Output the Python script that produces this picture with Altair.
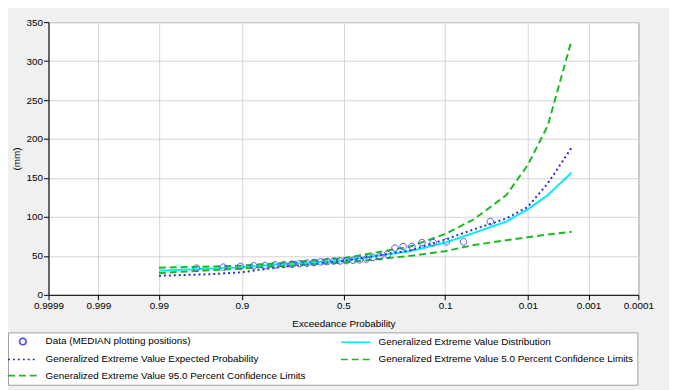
import altair as alt
import pandas as pd
from statistics import NormalDist

# ---------------- data ----------------
SERIES = [
    "Data (MEDIAN plotting positions)",
    "Generalized Extreme Value Distribution",
    "Generalized Extreme Value Expected Probability",
    "Generalized Extreme Value 5.0 Percent Confidence Limits",
    "Generalized Extreme Value 95.0 Percent Confidence Limits",
]

# observed data: exceedance probability and value (mm)
OBS_P = [0.032, 0.065, 0.097, 0.129, 0.161, 0.194, 0.226, 0.258, 0.290, 0.323,
         0.355, 0.387, 0.419, 0.452, 0.484, 0.516, 0.548, 0.581, 0.613, 0.645,
         0.677, 0.710, 0.742, 0.774, 0.806, 0.839, 0.871, 0.903, 0.935, 0.968]
OBS_V = [94.0, 68.0, 68.0, 67.0, 67.0, 62.0, 62.0, 60.0, 52.0, 49.0,
         48.0, 46.0, 45.0, 44.5, 44.0, 43.5, 43.5, 42.7, 42.4, 41.4,
         40.6, 40.1, 39.3, 38.9, 38.4, 37.6, 37.2, 36.4, 35.5, 34.2]

# frequency curve ordinates
CURVE_P = [0.99, 0.95, 0.9, 0.8, 0.5, 0.2, 0.1, 0.05, 0.02, 0.01, 0.005, 0.002]
GEV = [31.0, 33.8, 35.3, 39.0, 44.0, 56.0, 67.0, 79.5, 94.0, 110.0, 128.0, 157.0]
EXPECTED = [24.5, 26.6, 29.0, 35.0, 43.5, 57.0, 71.0, 84.0, 98.0, 113.0, 143.0, 189.0]
CL_05 = [34.8, 36.4, 37.6, 40.5, 47.0, 62.0, 78.0, 97.0, 128.0, 167.0, 217.0, 327.0]
CL_95 = [28.0, 31.7, 33.8, 36.5, 41.5, 50.0, 56.0, 64.0, 70.0, 74.0, 77.3, 81.0]

XTICK_LABELS = ["0.9999", "0.999", "0.99", "0.9", "0.5", "0.1", "0.01", "0.001", "0.0001"]
YTICKS = [0, 50, 100, 150, 200, 250, 300, 350]

# ---------------- styles ----------------
COLORS = ["#4b4bff", "#00eef6", "#2b2bd6", "#1db91d", "#1db91d"]
DASHES = [[1, 0], [1, 0], [2, 3], [7, 4], [7, 4]]
CIRCLE = "M1.1,0A1.1,1.1,0,1,1,-1.1,0A1.1,1.1,0,1,1,1.1,0Z"
LINE = "M-5,0L5,0"
SHAPES = [CIRCLE, LINE, LINE, LINE, LINE]
FONT = "Liberation Sans"
FS = 10

obs_df = pd.DataFrame({"p": OBS_P, "value": OBS_V, "series": SERIES[0]})
curve_rows = []
for name, vals in zip(SERIES[1:], [GEV, EXPECTED, CL_05, CL_95]):
    for p, v in zip(CURVE_P, vals):
        curve_rows.append({"p": p, "value": v, "series": name})
curve_df = pd.DataFrame(curve_rows)

nd = NormalDist()
xtick_vals = [nd.inv_cdf(1 - float(l)) for l in XTICK_LABELS]
label_expr = " : ".join(
    f"abs(datum.value - ({z:.6f})) < 0.001 ? '{l}'" for z, l in zip(xtick_vals, XTICK_LABELS)
) + " : ''"

xscale = alt.Scale(domain=[xtick_vals[0], xtick_vals[-1]], nice=False, zero=False)
yscale = alt.Scale(domain=[0, 350], nice=False)
xaxis = alt.Axis(values=xtick_vals, labelExpr=label_expr, title="Exceedance Probability",
                 titlePadding=8, labelPadding=1, labelFlush=False)
yaxis = alt.Axis(values=YTICKS, title="(mm)", titlePadding=5, labelPadding=1, labelFlush=False)

color_scale = alt.Scale(domain=SERIES, range=COLORS)
dash_scale = alt.Scale(domain=SERIES, range=DASHES)
shape_scale = alt.Scale(domain=SERIES, range=SHAPES)

legend = alt.Legend(
    orient="none", legendX=-41, legendY=314, columns=2, direction="horizontal", title=None,
    symbolSize=36, symbolOffset=6, labelOffset=18, rowPadding=6.4, columnPadding=31,
    padding=4, fillColor="white", strokeColor="#a0a0a0", symbolStrokeWidth=1.6,
    labelFont=FONT, labelFontSize=FS, labelColor="black", labelLimit=400,
)

lines = alt.Chart(curve_df).transform_calculate(
    z="quantileNormal(1 - datum.p)"
).mark_line(strokeWidth=2).encode(
    x=alt.X("z:Q", scale=xscale, axis=xaxis),
    y=alt.Y("value:Q", scale=yscale, axis=yaxis),
    color=alt.Color("series:N", scale=color_scale, legend=None),
    strokeDash=alt.StrokeDash("series:N", scale=dash_scale, legend=None),
)

points = alt.Chart(obs_df).transform_calculate(
    z="quantileNormal(1 - datum.p)"
).mark_point(filled=False, size=36, strokeWidth=1, opacity=1).encode(
    x=alt.X("z:Q", scale=xscale, axis=xaxis),
    y=alt.Y("value:Q", scale=yscale, axis=yaxis),
    color=alt.Color("series:N", scale=color_scale, legend=legend),
    shape=alt.Shape("series:N", scale=shape_scale, legend=legend),
    strokeDash=alt.StrokeDash("series:N", scale=dash_scale, legend=legend),
)

chart = alt.layer(lines, points).resolve_legend(
    color="independent", strokeDash="independent", shape="independent"
).properties(
    width=597, height=276,
    background="#f0f0f0",
    padding={"left": 41, "top": 12, "right": 31, "bottom": 94},
    autosize=alt.AutoSizeParams(type="none"),
).configure_view(
    stroke="#808080", fill="white"
).configure_axis(
    labelFont=FONT, labelFontSize=FS, labelColor="black",
    titleFont=FONT, titleFontSize=FS, titleColor="black", titleFontWeight="normal",
    domainColor="black", tickColor="black", tickSize=5,
    gridColor="#d4d4d4", grid=True,
)

chart.save("out.html", embed_options={"renderer": "svg", "actions": False})
